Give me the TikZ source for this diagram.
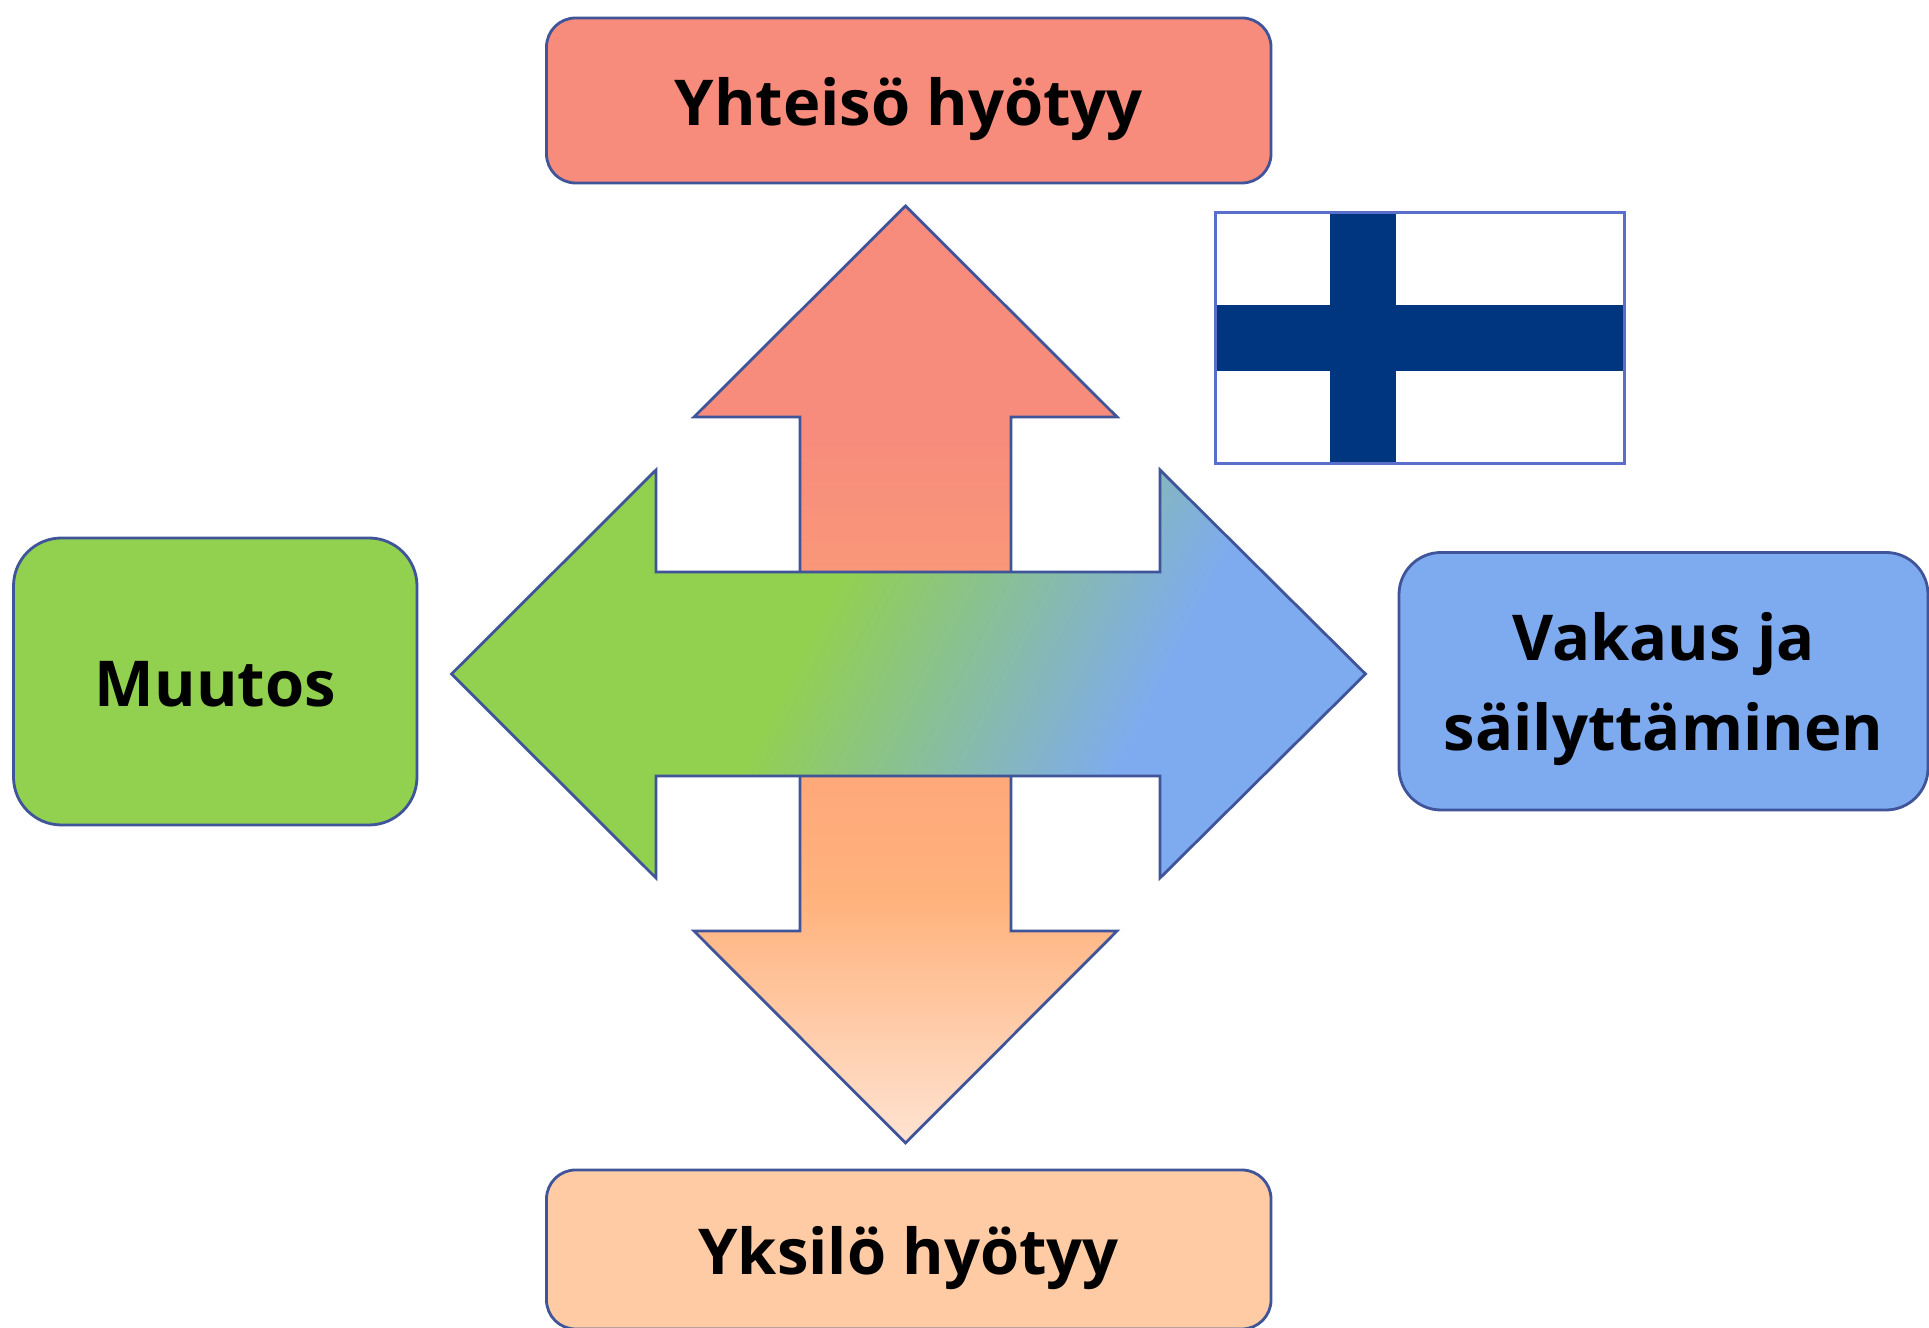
\documentclass[tikz,border=0pt]{standalone}
\usepackage{fontspec}
\setmainfont{Open Sans}
\definecolor{edgeblue}{HTML}{3F5499}
\definecolor{flagedge}{HTML}{5A6FCC}
\definecolor{flagblue}{HTML}{003580}
\definecolor{salmon}{HTML}{F88C7C}
\definecolor{salmonlow}{HTML}{F99779}
\definecolor{leafgreen}{HTML}{92D050}
\definecolor{skyblue}{HTML}{7EABEF}
\definecolor{peach}{HTML}{FFCBA4}
\definecolor{peachtop}{HTML}{FFA87A}
\definecolor{peachmid}{HTML}{FFB27C}
\definecolor{peachlow}{HTML}{FFE3D2}
\pgfdeclareverticalshading{upshade}{100bp}{color(0bp)=(salmonlow); color(36bp)=(salmonlow); color(50bp)=(salmon); color(100bp)=(salmon)}
\pgfdeclareverticalshading{downshade}{100bp}{color(0bp)=(peachlow); color(25bp)=(peachlow); color(51bp)=(peachmid); color(64bp)=(peachtop); color(100bp)=(peachtop)}
\pgfdeclarehorizontalshading{sideshade}{100bp}{color(0bp)=(leafgreen); color(43bp)=(leafgreen); color(65.5bp)=(skyblue); color(100bp)=(skyblue)}
\tikzset{
    arrowshape/.style={draw=edgeblue,line width=1.6pt,line join=miter},
    textbox/.style={draw=edgeblue,line width=1.6pt,align=center,inner sep=0pt,
        font=\fontsize{36}{51}\selectfont\bfseries},
    oneline/.style={text height=29pt,text depth=0pt}
}
\begin{document}
\begin{tikzpicture}[scale=1]
  \useasboundingbox (0,0) rectangle (38.58,26.56);
  % Draw up and down arrows
  \shade[arrowshape,shading=upshade] (18.11,22.44) -- (22.34,18.22) -- (20.22,18.22)
        -- (20.22,13.08) -- (16,13.08) -- (16,18.22) -- (13.88,18.22) -- cycle;
  \shade[arrowshape,shading=downshade] (18.11,3.7) -- (22.34,7.94) -- (20.22,7.94)
        -- (20.22,13.08) -- (16,13.08) -- (16,7.94) -- (13.88,7.94) -- cycle;
  % Draw side arrow
  \shade[arrowshape,shading=sideshade,shading angle=-27] (9.03,13.08) -- (13.12,17.16)
        -- (13.12,15.12) -- (23.2,15.12) -- (23.2,17.16) -- (27.31,13.08)
        -- (23.2,9) -- (23.2,11.04) -- (13.12,11.04) -- (13.12,9) -- cycle;
  % Draw boxes
  \node (community) [textbox,oneline,fill=salmon,rounded corners=0.58cm,minimum width=14.49cm,
        minimum height=3.3cm] at (18.175,24.55) {Yhteisö hyötyy};
  \node (individual) [textbox,oneline,fill=peach,rounded corners=0.58cm,minimum width=14.49cm,
        minimum height=3.18cm] at (18.175,1.57) {Yksilö hyötyy};
  \node (change) [textbox,oneline,fill=leafgreen,rounded corners=0.96cm,minimum width=8.07cm,
        minimum height=5.74cm] at (4.305,12.93) {Muutos};
  \node (stability) [textbox,text depth=0pt,fill=skyblue,rounded corners=0.84cm,minimum width=10.58cm,
        minimum height=5.15cm] at (33.27,12.935) {Vakaus ja\\säilyttäminen};
  % Draw flag
  \fill[white] (24.3,17.28) rectangle (32.48,22.3);
  \fill[flagblue] (26.6,17.28) rectangle (27.92,22.3);
  \fill[flagblue] (24.3,19.13) rectangle (32.48,20.45);
  \draw[flagedge,line width=1.7pt] (24.3,17.28) rectangle (32.48,22.3);
\end{tikzpicture}
\end{document}
